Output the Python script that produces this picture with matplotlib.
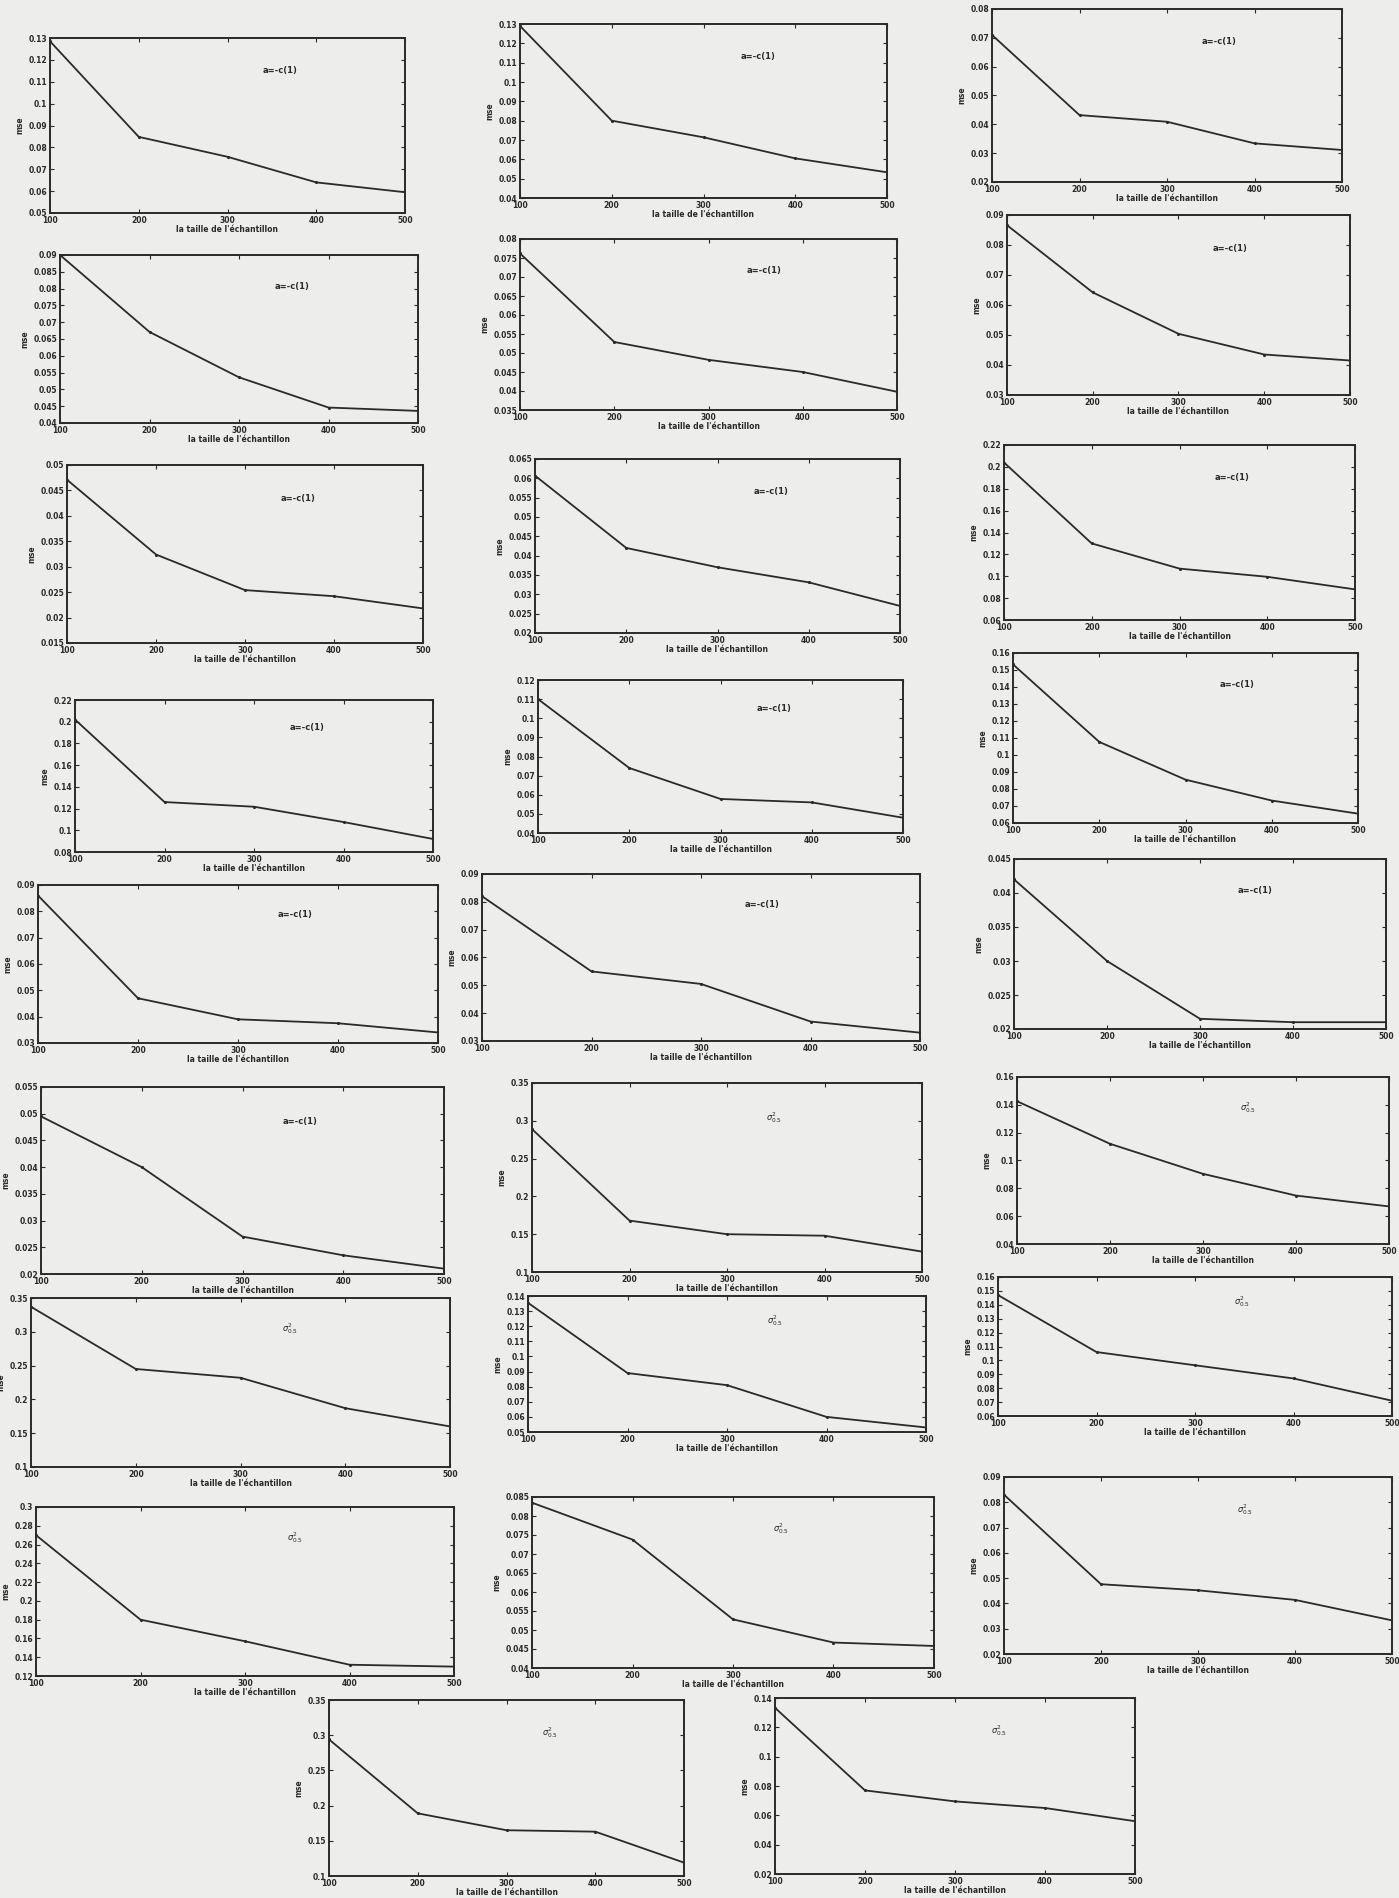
import numpy as np
import matplotlib
matplotlib.use("Agg")
import matplotlib.pyplot as plt

# sample sizes on the x axis of every panel
sizes = [100, 200, 300, 400, 500]

# mse per sample size, one list per panel (row by row)
mse_a1 = [0.1285, 0.0848, 0.0757, 0.064, 0.0595]
mse_a2 = [0.129, 0.080, 0.0714, 0.0605, 0.0533]
mse_a3 = [0.071, 0.0432, 0.0409, 0.0334, 0.0311]
mse_a4 = [0.090, 0.0671, 0.0536, 0.0446, 0.0436]
mse_a5 = [0.0762, 0.0529, 0.0482, 0.045, 0.0398]
mse_a6 = [0.0866, 0.0642, 0.0504, 0.0435, 0.0415]
mse_a7 = [0.0471, 0.0324, 0.0254, 0.0242, 0.0218]
mse_a8 = [0.0607, 0.042, 0.037, 0.0331, 0.027]
mse_a9 = [0.204, 0.130, 0.107, 0.0995, 0.088]
mse_a10 = [0.202, 0.126, 0.1217, 0.1076, 0.092]
mse_a11 = [0.110, 0.074, 0.0578, 0.056, 0.048]
mse_a12 = [0.1533, 0.1077, 0.0855, 0.0732, 0.0655]
mse_a13 = [0.086, 0.047, 0.039, 0.0375, 0.034]
mse_a14 = [0.082, 0.055, 0.0505, 0.037, 0.033]
mse_a15 = [0.042, 0.030, 0.0215, 0.021, 0.021]
mse_a16 = [0.0495, 0.040, 0.027, 0.0235, 0.021]
mse_s1 = [0.289, 0.168, 0.150, 0.148, 0.127]
mse_s2 = [0.1426, 0.112, 0.0904, 0.0748, 0.067]
mse_s3 = [0.337, 0.245, 0.232, 0.187, 0.160]
mse_s4 = [0.1355, 0.089, 0.081, 0.060, 0.053]
mse_s5 = [0.147, 0.106, 0.0965, 0.087, 0.071]
mse_s6 = [0.270, 0.180, 0.157, 0.132, 0.130]
mse_s7 = [0.0835, 0.0738, 0.0528, 0.0467, 0.0458]
mse_s8 = [0.083, 0.0476, 0.0452, 0.0414, 0.0333]
mse_s9 = [0.294, 0.189, 0.165, 0.163, 0.119]
mse_s10 = [0.1333, 0.077, 0.0695, 0.065, 0.056]

series = [mse_a1, mse_a2, mse_a3, mse_a4, mse_a5, mse_a6, mse_a7, mse_a8,
          mse_a9, mse_a10, mse_a11, mse_a12, mse_a13, mse_a14, mse_a15,
          mse_a16, mse_s1, mse_s2, mse_s3, mse_s4, mse_s5, mse_s6, mse_s7,
          mse_s8, mse_s9, mse_s10]

# y axis range and tick step per panel: (bottom, top, step)
y_ranges = [
    (0.05, 0.13, 0.01), (0.04, 0.13, 0.01), (0.02, 0.08, 0.01),
    (0.04, 0.09, 0.005), (0.035, 0.08, 0.005), (0.03, 0.09, 0.01),
    (0.015, 0.05, 0.005), (0.02, 0.065, 0.005), (0.06, 0.22, 0.02),
    (0.08, 0.22, 0.02), (0.04, 0.12, 0.01), (0.06, 0.16, 0.01),
    (0.03, 0.09, 0.01), (0.03, 0.09, 0.01), (0.02, 0.045, 0.005),
    (0.02, 0.055, 0.005), (0.1, 0.35, 0.05), (0.04, 0.16, 0.02),
    (0.1, 0.35, 0.05), (0.05, 0.14, 0.01), (0.06, 0.16, 0.01),
    (0.12, 0.30, 0.02), (0.04, 0.085, 0.005), (0.02, 0.09, 0.01),
    (0.1, 0.35, 0.05), (0.02, 0.14, 0.02),
]

titles = ["a=-c(1)"] * 16 + [r"$\sigma^{2}_{0.5}$"] * 10
xlabel = "la taille de l'échantillon"
ylabel = "mse"

# axes boxes in pixels: left, top, right, bottom
boxes = [
    (50, 38, 405, 213), (520, 24, 887, 198), (992, 9, 1342, 182),
    (60, 255, 418, 423), (520, 239, 897, 410), (1007, 215, 1350, 395),
    (67, 465, 423, 643), (535, 459, 900, 633), (1004, 445, 1355, 620),
    (75, 700, 433, 852), (538, 680, 903, 833), (1013, 653, 1358, 823),
    (38, 885, 438, 1043), (482, 874, 920, 1041), (1014, 859, 1386, 1029),
    (41, 1087, 444, 1274), (532, 1083, 922, 1272), (1017, 1077, 1389, 1244),
    (31, 1298, 450, 1467), (528, 1296, 926, 1432), (998, 1277, 1392, 1416),
    (36, 1507, 454, 1676), (532, 1497, 934, 1668), (1004, 1477, 1392, 1654),
    (329, 1700, 684, 1876), (775, 1698, 1135, 1874),
]

W, H = 1399, 1898
paper = "#ededeb"
ink = "#2a2a2a"

fig = plt.figure(figsize=(W / 100, H / 100), dpi=100, facecolor=paper)

for vals, (lo, hi, step), title, (l, t, r, b) in zip(series, y_ranges, titles, boxes):
    ax = fig.add_axes([l / W, 1 - b / H, (r - l) / W, (b - t) / H])
    ax.set_facecolor(paper)
    ax.plot(sizes, vals, color=ink, lw=1.3, marker=".", ms=2.5)
    ax.set_xlim(100, 500)
    ax.set_ylim(lo, hi)
    ax.set_xticks(sizes)
    yt = np.round(np.arange(lo, hi + step / 2, step), 4)
    ax.set_yticks(yt)
    ax.set_yticklabels(["%g" % v for v in yt])
    ax.tick_params(direction="in", length=3, width=0.8, labelsize=5.5,
                   top=True, right=True, colors=ink, pad=2)
    for lab in ax.get_xticklabels() + ax.get_yticklabels():
        lab.set_fontweight("bold")
    for sp in ax.spines.values():
        sp.set_linewidth(1.4)
        sp.set_color(ink)
    ax.set_xlabel(xlabel, fontsize=5.5, fontweight="bold", color=ink, labelpad=0)
    ax.set_ylabel(ylabel, fontsize=5.5, fontweight="bold", color=ink, labelpad=3)
    ax.text(0.6, 0.8, title, transform=ax.transAxes, fontsize=6,
            fontweight="bold", color=ink)

fig.savefig("out.png", dpi=100, facecolor=paper)
